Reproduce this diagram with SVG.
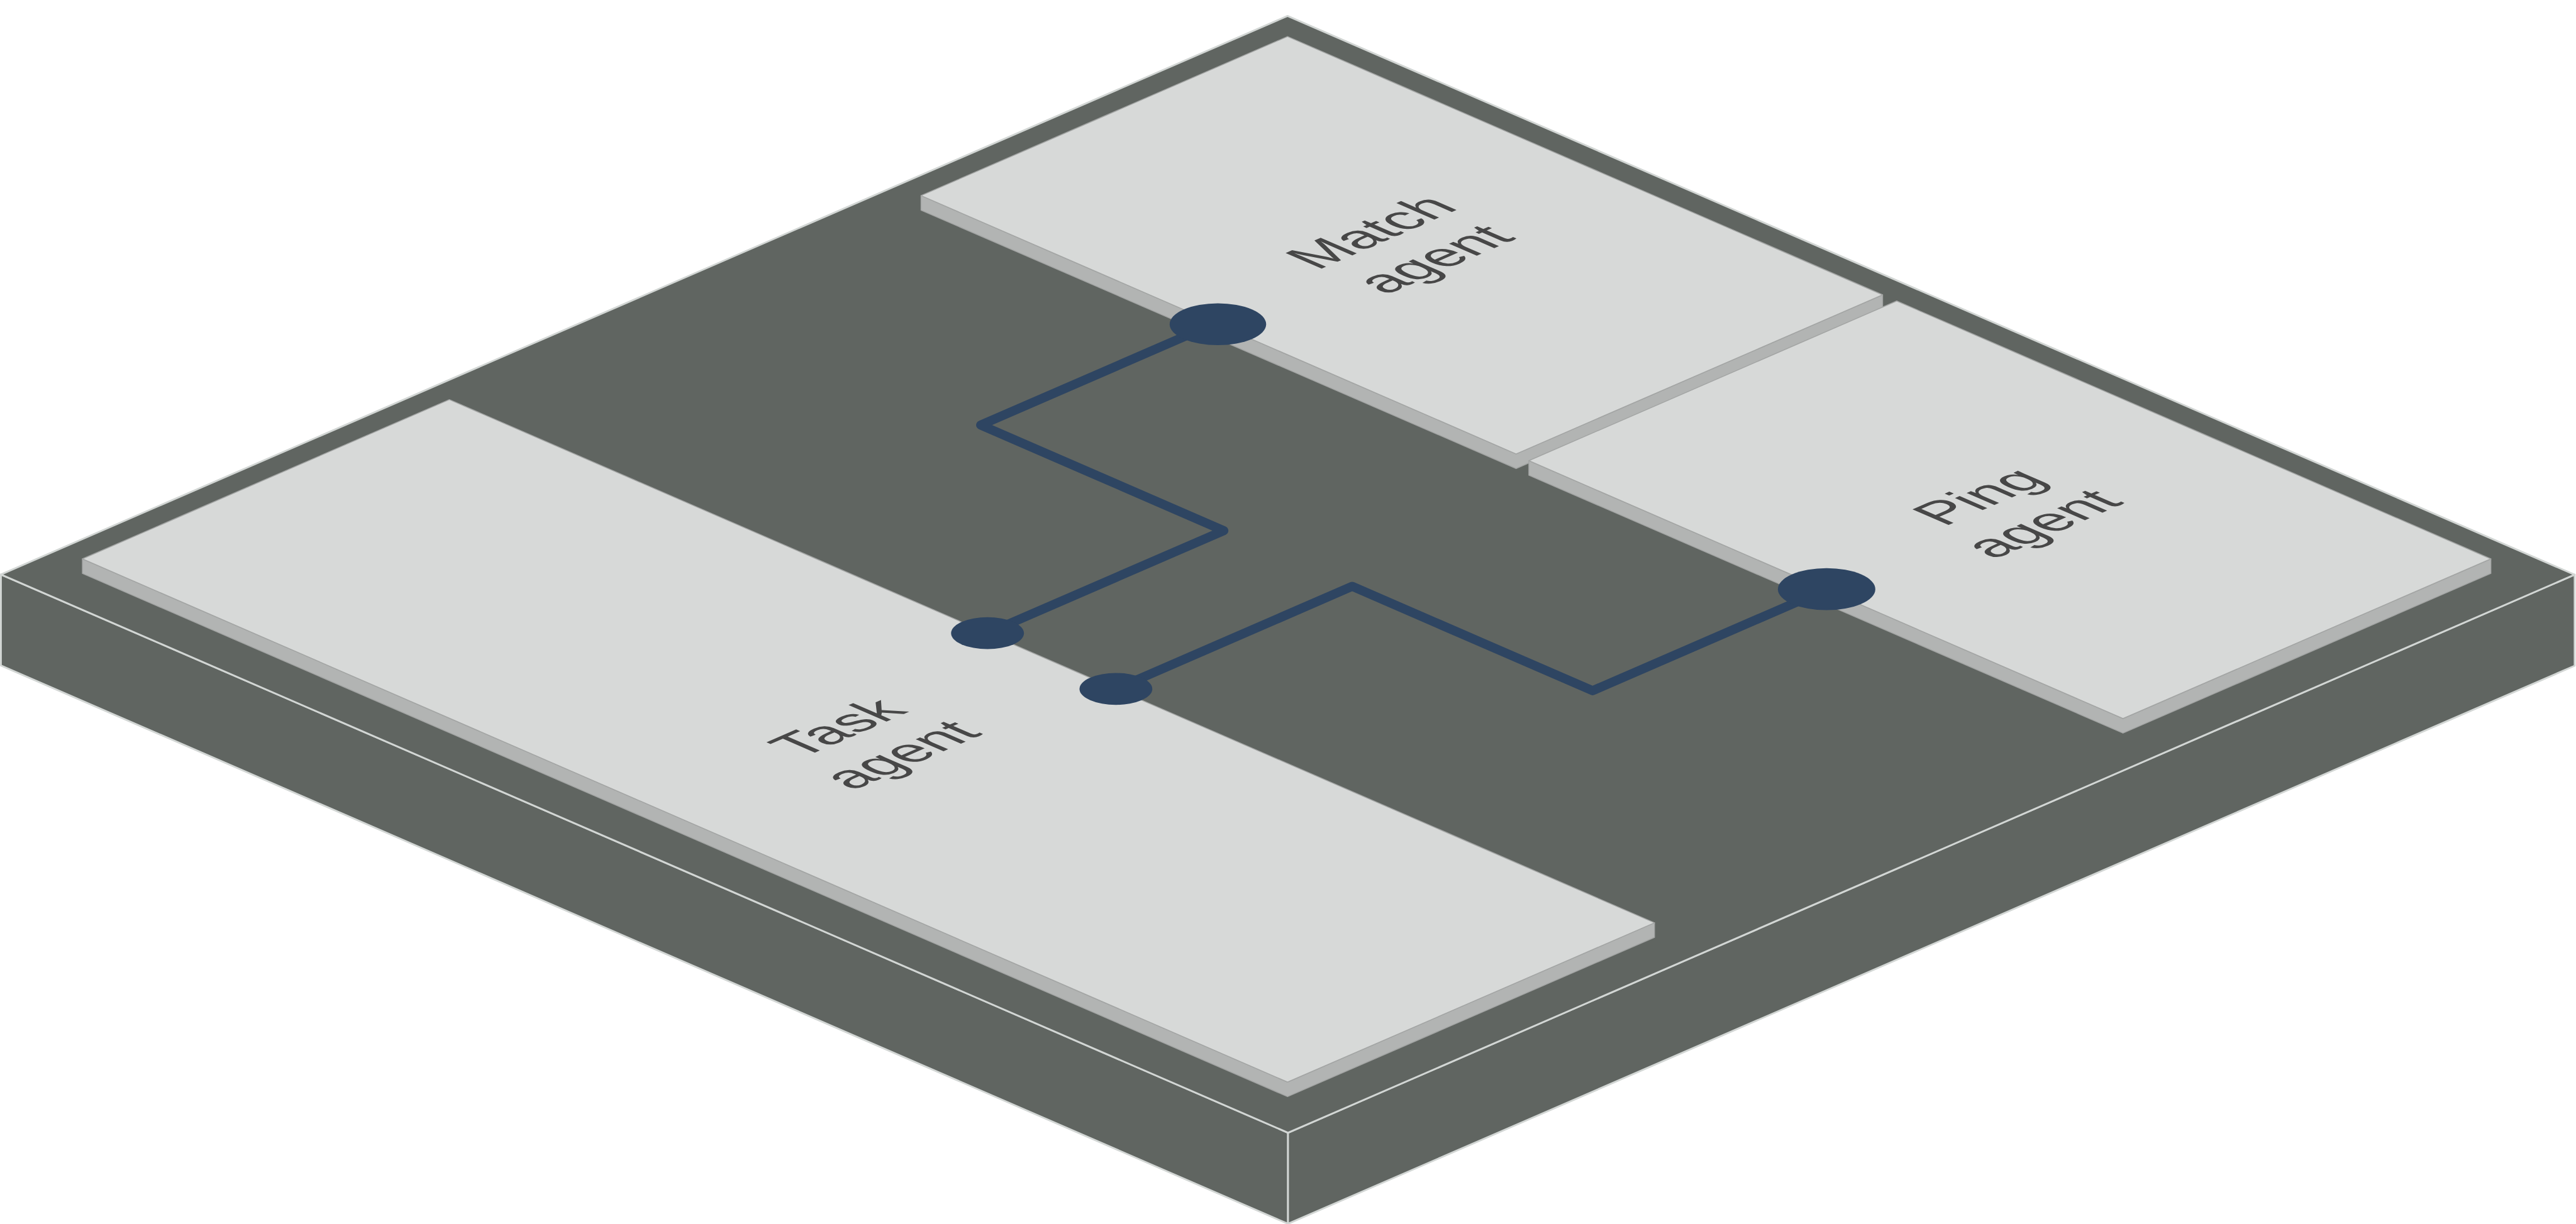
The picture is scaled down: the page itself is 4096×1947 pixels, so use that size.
<svg xmlns="http://www.w3.org/2000/svg" width="4096" height="1947" viewBox="0 0 4096 1947">
<style>
.base{fill:#606561;stroke:#d2d6d4;stroke-width:4;stroke-linejoin:round}
.side{fill:#b2b4b3;stroke:#a3a5a4;stroke-width:2;stroke-linejoin:round}
.top{fill:#d7d9d8;stroke:#a3a5a4;stroke-width:2;stroke-linejoin:round}
.lbl{font-family:"Liberation Sans",Arial,sans-serif;font-size:115px;fill:#474747;text-anchor:middle}
.wire{fill:none;stroke:#2e4562;stroke-width:20;stroke-linejoin:round;stroke-linecap:round}
.port{fill:#2e4562}
</style>
<rect width="4096" height="1947" fill="#ffffff"/>
<g transform="scale(0.723934)">
<g id="platform">
<polygon class="base" points="2,1262.3 2829,2489 2829,2689 2,1462.3"/>
<polygon class="base" points="2829,2489 5655,1262.8 5655,1462.8 2829,2689"/>
<polygon class="base" points="2828,35 5655,1262.8 2829,2489 2,1262.3"/>
</g>
<g id="task-agent">
<polygon class="side" points="181,1228 2828,2377.6 3634,2027.6 3634,2059.6 2828,2409.6 181,1260"/>
<polygon class="top" points="987,878 3634,2027.6 2828,2377.6 181,1228"/>
<g transform="matrix(1,-0.4343,1,0.4343,1907.5,1627.8)">
<text class="lbl" x="0" y="-29">Task</text>
<text class="lbl" x="0" y="109">agent</text>
</g>
</g>
<g id="match-agent">
<polygon class="side" points="2023,429.8 3330,997.4 4135,647.8 4135,679.8 3330,1029.4 2023,461.8"/>
<polygon class="top" points="2828,80.2 4135,647.8 3330,997.4 2023,429.8"/>
<g transform="matrix(1,-0.4343,1,0.4343,3079,538.8)">
<text class="lbl" x="0" y="-29">Match</text>
<text class="lbl" x="0" y="109">agent</text>
</g>
</g>
<g id="ping-agent">
<polygon class="side" points="3358,1012.2 4663,1578.9 5471,1228 5471,1260 4663,1610.9 3358,1044.2"/>
<polygon class="top" points="4166,661.3 5471,1228 4663,1578.9 3358,1012.2"/>
<g transform="matrix(1,-0.4343,1,0.4343,4414.5,1120.1)">
<text class="lbl" x="0" y="-29">Ping</text>
<text class="lbl" x="0" y="109">agent</text>
</g>
</g>
<g id="connectors">
<polyline class="wire" points="2669,710.3 2154,934 2688,1165.9 2169,1391.3"/>
<polyline class="wire" points="2451,1513.8 2970,1288.4 3498,1517.7 4012,1294.5"/>
<ellipse class="port" cx="2675" cy="712.5" rx="106" ry="46"/>
<ellipse class="port" cx="4012" cy="1294.5" rx="107" ry="46"/>
<ellipse class="port" cx="2169" cy="1391.3" rx="80" ry="35"/>
<ellipse class="port" cx="2451" cy="1513.8" rx="80" ry="35"/>
</g>
</g>
</svg>
